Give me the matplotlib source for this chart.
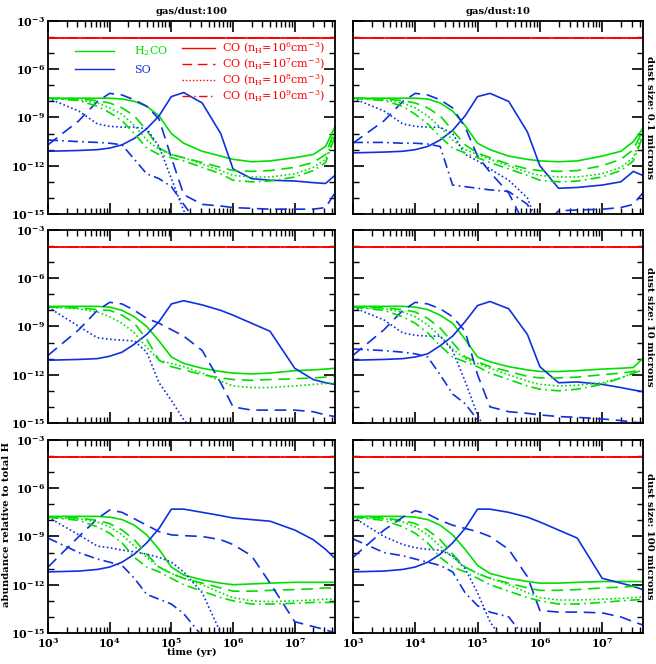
import numpy as np
import matplotlib
matplotlib.use("Agg")
import matplotlib.pyplot as plt
from matplotlib.ticker import LogLocator, NullFormatter, FixedLocator
from matplotlib.lines import Line2D

N = np.nan
LOGT = [3, 3.5, 3.8, 4, 4.2, 4.4, 4.6, 4.8, 5, 5.2, 5.5, 5.8, 6, 6.3, 6.6, 7, 7.3, 7.5, 7.65]
co_abund = -4.08
NAN19 = [N]*19
F = [-16]

# order: nH = 1e6 (solid), 1e7 (dashed), 1e8 (dotted), 1e9 (dash-dot)
h2co_g100_s01 = [
 [-7.8,-7.8,-7.8,-7.8,-7.85,-8.0,-8.3,-8.9,-10.0,-10.6,-11.1,-11.4,-11.6,-11.75,-11.7,-11.5,-11.3,-10.8,-9.6],
 [-7.8,-7.85,-7.95,-8.1,-8.4,-8.9,-9.8,-10.9,-11.3,-11.5,-11.8,-12.1,-12.3,-12.35,-12.3,-12.1,-11.8,-11.3,-9.8],
 [-7.8,-7.9,-8.1,-8.4,-8.8,-9.5,-10.4,-11.0,-11.3,-11.5,-11.9,-12.3,-12.6,-12.7,-12.7,-12.5,-12.1,-11.6,-10.0],
 [-7.8,-7.95,-8.3,-8.7,-9.2,-10.0,-10.9,-11.3,-11.5,-11.7,-12.1,-12.5,-12.9,-13.0,-12.95,-12.7,-12.3,-11.8,-10.2]]
so_g100_s01 = [
 [-11.1,-11.05,-11.0,-10.9,-10.7,-10.3,-9.7,-8.9,-7.7,-7.45,-8.1,-10.0,-12.2,-12.8,-12.9,-12.95,-13.05,-13.1,-12.6],
 [-10.7,-9.2,-8.0,-7.5,-7.6,-7.9,-8.3,-9.1,-11.5,-13.8,-14.4,-14.5,-14.6,-14.65,-14.7,-14.7,-14.7,-14.6,-13.7],
 [-7.8,-8.6,-9.4,-9.55,-9.6,-9.6,-9.7,-10.8,-12.8,-14.8]+F*9,
 [-10.4,-10.5,-10.55,-10.6,-10.7,-11.6,-12.5,-12.8,-13.3,-14.4]+F*9]

h2co_g10_s01 = [
 [-7.8,-7.8,-7.8,-7.8,-7.85,-8.1,-8.6,-9.5,-10.6,-11.0,-11.4,-11.6,-11.7,-11.75,-11.7,-11.4,-11.1,-10.5,-9.7],
 [-7.8,-7.85,-7.95,-8.1,-8.4,-8.9,-9.8,-10.7,-11.2,-11.5,-11.9,-12.2,-12.3,-12.35,-12.3,-12.0,-11.6,-11.0,-9.8],
 [-7.8,-7.9,-8.1,-8.4,-8.9,-9.6,-10.4,-11.0,-11.3,-11.6,-12.0,-12.4,-12.6,-12.7,-12.7,-12.5,-12.1,-11.5,-10.0],
 [-7.8,-7.95,-8.3,-8.8,-9.4,-10.2,-10.9,-11.2,-11.5,-11.8,-12.2,-12.6,-12.9,-13.0,-12.95,-12.7,-12.3,-11.7,-10.2]]
so_g10_s01 = [
 [-11.2,-11.15,-11.1,-11.0,-10.8,-10.4,-9.8,-8.9,-7.7,-7.5,-8.0,-9.9,-12.0,-13.4,-13.35,-13.2,-13.0,-12.35,-12.6],
 [-10.6,-9.2,-8.0,-7.5,-7.6,-7.9,-8.4,-9.6,-11.4,-12.4,-13.7,-16,-16,-14.8,-14.75,-14.7,-14.6,-14.4,-13.7],
 [-7.8,-8.6,-9.4,-9.55,-9.6,-9.6,-10.0,-11.3,-11.7,-12.2,-12.9,-14.0]+F*7,
 [-10.55,-10.55,-10.6,-10.6,-10.65,-10.8,-13.2,-13.3,-13.4,-13.5,-13.6,-14.4]+F*7]

h2co_g100_s10 = [
 [-7.75,-7.75,-7.75,-7.8,-8.0,-8.4,-9.0,-9.9,-10.9,-11.3,-11.6,-11.8,-11.9,-11.95,-11.9,-11.75,-11.7,-11.65,-11.6],
 [-7.8,-7.85,-7.95,-8.0,-8.3,-8.8,-9.8,-11.1,-11.5,-11.7,-12.0,-12.2,-12.3,-12.35,-12.3,-12.25,-12.2,-12.15,-12.1],
 [-7.8,-7.9,-8.1,-8.4,-8.8,-9.4,-10.3,-11.1,-11.3,-11.5,-11.9,-12.4,-12.7,-12.8,-12.8,-12.7,-12.6,-12.55,-12.5],
 NAN19]
so_g100_s10 = [
 [-11.1,-11.05,-11.0,-10.85,-10.6,-10.1,-9.5,-8.7,-7.6,-7.4,-7.66,-8.0,-8.3,-8.8,-9.3,-11.6,-12.3,-12.5,-12.6],
 [-10.8,-9.2,-8.0,-7.5,-7.6,-8.0,-8.5,-8.8,-9.2,-9.6,-10.5,-12.5,-14.0,-14.2,-14.2,-14.2,-14.3,-14.5,-14.6],
 [-7.8,-9.0,-9.7,-9.8,-9.85,-9.9,-10.6,-12.5,-13.6,-14.8]+F*9,
 NAN19]

h2co_g10_s10 = [
 [-7.75,-7.75,-7.75,-7.8,-7.95,-8.3,-8.8,-9.8,-10.9,-11.2,-11.5,-11.7,-11.8,-11.8,-11.75,-11.65,-11.6,-11.55,-11.0],
 [-7.8,-7.85,-7.95,-8.1,-8.5,-9.1,-10.0,-10.9,-11.2,-11.5,-11.8,-12.1,-12.2,-12.2,-12.15,-12.0,-11.9,-11.8,-11.6],
 [-7.8,-7.9,-8.1,-8.4,-8.9,-9.6,-10.4,-11.0,-11.3,-11.6,-12.0,-12.4,-12.6,-12.7,-12.65,-12.5,-12.2,-11.9,-11.7],
 [-7.8,-8.0,-8.4,-8.8,-9.4,-10.2,-10.9,-11.2,-11.5,-11.9,-12.3,-12.7,-12.9,-13.0,-12.9,-12.6,-12.2,-11.9,-11.7]]
so_g10_s10 = [
 [-11.1,-11.05,-11.0,-10.9,-10.7,-10.2,-9.6,-8.7,-7.7,-7.45,-7.9,-9.5,-11.5,-12.5,-12.45,-12.6,-12.8,-12.95,-13.05],
 [-10.8,-9.2,-8.0,-7.5,-7.6,-7.9,-8.4,-9.3,-12.0,-14.0,-14.3,-14.4,-14.5,-14.6,-14.65,-14.75,-14.85,-14.95,-15.0],
 [-7.8,-8.6,-9.4,-9.55,-9.6,-9.6,-10.5,-12.4,-14.5]+F*10,
 [-10.4,-10.5,-10.6,-10.7,-10.9,-12.0,-13.2,-13.8,-14.8]+F*10]

h2co_g100_s100 = [
 [-7.75,-7.75,-7.75,-7.8,-7.95,-8.3,-8.9,-9.8,-10.9,-11.4,-11.7,-11.9,-12.0,-11.95,-11.9,-11.85,-11.85,-11.85,-11.85],
 [-7.8,-7.85,-8.0,-8.2,-8.6,-9.2,-10.1,-10.9,-11.3,-11.6,-11.9,-12.2,-12.4,-12.4,-12.35,-12.3,-12.25,-12.2,-12.2],
 [-7.8,-7.9,-8.1,-8.4,-8.9,-9.6,-10.3,-10.9,-11.3,-11.6,-12.0,-12.5,-12.8,-13.0,-13.05,-13.0,-12.95,-12.9,-12.9],
 [-7.8,-8.0,-8.4,-8.8,-9.4,-10.3,-10.9,-11.2,-11.6,-12.0,-12.4,-12.8,-13.0,-13.2,-13.2,-13.15,-13.1,-13.1,-13.1]]
so_g100_s100 = [
 [-11.2,-11.15,-11.05,-10.9,-10.6,-10.1,-9.4,-8.5,-7.3,-7.3,-7.5,-7.7,-7.85,-7.95,-8.05,-8.6,-9.2,-9.8,-10.35],
 [-10.9,-9.0,-7.9,-7.35,-7.5,-7.9,-8.3,-8.7,-8.9,-8.95,-9.0,-9.2,-9.5,-10.2,-11.9,-14.3,-14.6,-14.8,-15.0],
 [-7.8,-8.9,-9.6,-9.7,-9.85,-9.95,-10.1,-10.3,-10.6,-11.2,-12.5,-15.0]+F*7,
 [-9.1,-10.0,-10.4,-10.6,-10.8,-11.6,-12.6,-12.9,-13.2,-13.8,-15.2]+F*8]

h2co_g10_s100 = [
 [-7.75,-7.75,-7.75,-7.8,-7.95,-8.3,-8.9,-9.8,-10.8,-11.3,-11.6,-11.8,-11.9,-11.9,-11.85,-11.8,-11.8,-11.8,-11.8],
 [-7.8,-7.85,-8.0,-8.2,-8.6,-9.2,-10.1,-10.9,-11.3,-11.6,-11.9,-12.2,-12.35,-12.35,-12.3,-12.2,-12.15,-12.1,-12.1],
 [-7.8,-7.9,-8.1,-8.4,-8.9,-9.6,-10.3,-10.9,-11.3,-11.6,-12.0,-12.5,-12.8,-12.95,-12.95,-12.9,-12.85,-12.8,-12.75],
 [-7.8,-8.0,-8.4,-8.8,-9.4,-10.3,-10.9,-11.2,-11.6,-12.0,-12.4,-12.8,-13.0,-13.2,-13.2,-13.1,-13.0,-12.95,-12.9]]
so_g10_s100 = [
 [-11.2,-11.15,-11.05,-10.9,-10.6,-10.1,-9.4,-8.5,-7.3,-7.3,-7.5,-7.8,-8.1,-8.6,-9.1,-11.6,-11.9,-12.1,-12.3],
 [-10.3,-8.6,-7.8,-7.4,-7.6,-8.0,-8.3,-8.5,-8.7,-9.0,-9.8,-11.5,-13.6,-13.7,-13.7,-13.75,-14.0,-14.3,-14.5],
 [-7.8,-9.0,-9.5,-9.7,-9.8,-9.85,-10.2,-11.0,-12.5,-14.3]+F*9,
 [-9.15,-10.0,-10.2,-10.4,-10.6,-10.8,-11.2,-12.5,-13.3,-13.7,-14.0,-15.5]+F*7]

col_titles = ["gas/dust:100", "gas/dust:10"]
row_labels = ["dust size: 0.1 microns", "dust size: 10 microns", "dust size: 100 microns"]
panels = [[(h2co_g100_s01, so_g100_s01), (h2co_g10_s01, so_g10_s01)],
          [(h2co_g100_s10, so_g100_s10), (h2co_g10_s10, so_g10_s10)],
          [(h2co_g100_s100, so_g100_s100), (h2co_g10_s100, so_g10_s100)]]
co_labels = [r"CO (n$_{\rm H}$=10$^6$cm$^{-3}$)", r"CO (n$_{\rm H}$=10$^7$cm$^{-3}$)",
             r"CO (n$_{\rm H}$=10$^8$cm$^{-3}$)", r"CO (n$_{\rm H}$=10$^9$cm$^{-3}$)"]

GREEN = "#00e000"
BLUE = "#1030e0"
RED = "#ff0000"
styles = ["-", (0, (7, 4)), (0, (1, 1.5)), (0, (6, 2.5, 1, 2.5))]

plt.rcParams['mathtext.fontset'] = 'dejavuserif'
fig = plt.figure(figsize=(6.56, 6.64), dpi=100)
xl = [0.0732, 0.538]
w = [0.4375, 0.442]
yb = [0.6777, 0.3630, 0.0467]
h = 0.2907
t = 10 ** np.array(LOGT)
tfont = dict(family="DejaVu Serif", weight="bold", size=7.2)

for r in range(3):
    for c in range(2):
        ax = fig.add_axes([xl[c], yb[r], w[c], h])
        h2co, so = panels[r][c]
        for k in range(4):
            ax.plot(t, [10 ** co_abund] * len(t), color=RED, lw=1.2, ls=styles[k])
        for k in range(4):
            ax.plot(t, 10 ** np.array(h2co[k]), color=GREEN, lw=1.2, ls=styles[k])
            ax.plot(t, 10 ** np.array(so[k]), color=BLUE, lw=1.2, ls=styles[k])
        ax.set_xscale("log"); ax.set_yscale("log")
        ax.set_xlim(1e3, 4.5e7); ax.set_ylim(1e-15, 1e-3)
        ax.yaxis.set_major_locator(FixedLocator([1e-15, 1e-12, 1e-9, 1e-6, 1e-3]))
        ax.yaxis.set_minor_locator(FixedLocator([10.0 ** e for e in range(-15, -2)]))
        ax.yaxis.set_minor_formatter(NullFormatter())
        ax.xaxis.set_minor_locator(LogLocator(base=10, subs=np.arange(2, 10), numticks=20))
        ax.xaxis.set_minor_formatter(NullFormatter())
        ax.tick_params(which="both", direction="in", top=True, right=True, labelsize=8)
        ax.tick_params(which="major", length=8, width=1.2, pad=2)
        ax.tick_params(which="minor", length=4, width=1)
        for s in ax.spines.values():
            s.set_linewidth(1.3)
        for lab in ax.get_xticklabels() + ax.get_yticklabels():
            lab.set_fontfamily("DejaVu Serif"); lab.set_fontweight("bold")
        if r < 2:
            ax.set_xticklabels([])
        if c == 1:
            ax.set_yticklabels([])
            ax.text(1.008, 0.5, row_labels[r], transform=ax.transAxes, rotation=-90,
                    ha="left", va="center", **tfont)
        if r == 0:
            ax.set_title(col_titles[c], pad=5, **tfont)
        if r == 2 and c == 0:
            ax.set_xlabel("time (yr)", labelpad=-1, **tfont)
            ax.set_ylabel("abundance relative to total H", labelpad=0, y=0.56, **tfont)
        if r == 0 and c == 0:
            hs = [Line2D([], [], color=GREEN, lw=1), Line2D([], [], color=BLUE, lw=1)]
            l1 = ax.legend(hs, [r"H$_2$CO", "SO"], loc="upper left", bbox_to_anchor=(0.06, 0.93),
                           frameon=False, handlelength=3.5, handletextpad=1.8,
                           prop=dict(family="DejaVu Serif", size=8), labelspacing=0.6)
            for txt, col in zip(l1.get_texts(), [GREEN, BLUE]):
                txt.set_color(col)
            ax.add_artist(l1)
            hs2 = [Line2D([], [], color=RED, lw=1, ls=styles[k]) for k in range(4)]
            l2 = ax.legend(hs2, co_labels, loc="upper right", bbox_to_anchor=(1.0, 0.95),
                           frameon=False, handlelength=3, handletextpad=0.6,
                           prop=dict(family="DejaVu Serif", size=8), labelspacing=0.05)
            for txt in l2.get_texts():
                txt.set_color(RED)

fig.savefig("out.png", dpi=100)
